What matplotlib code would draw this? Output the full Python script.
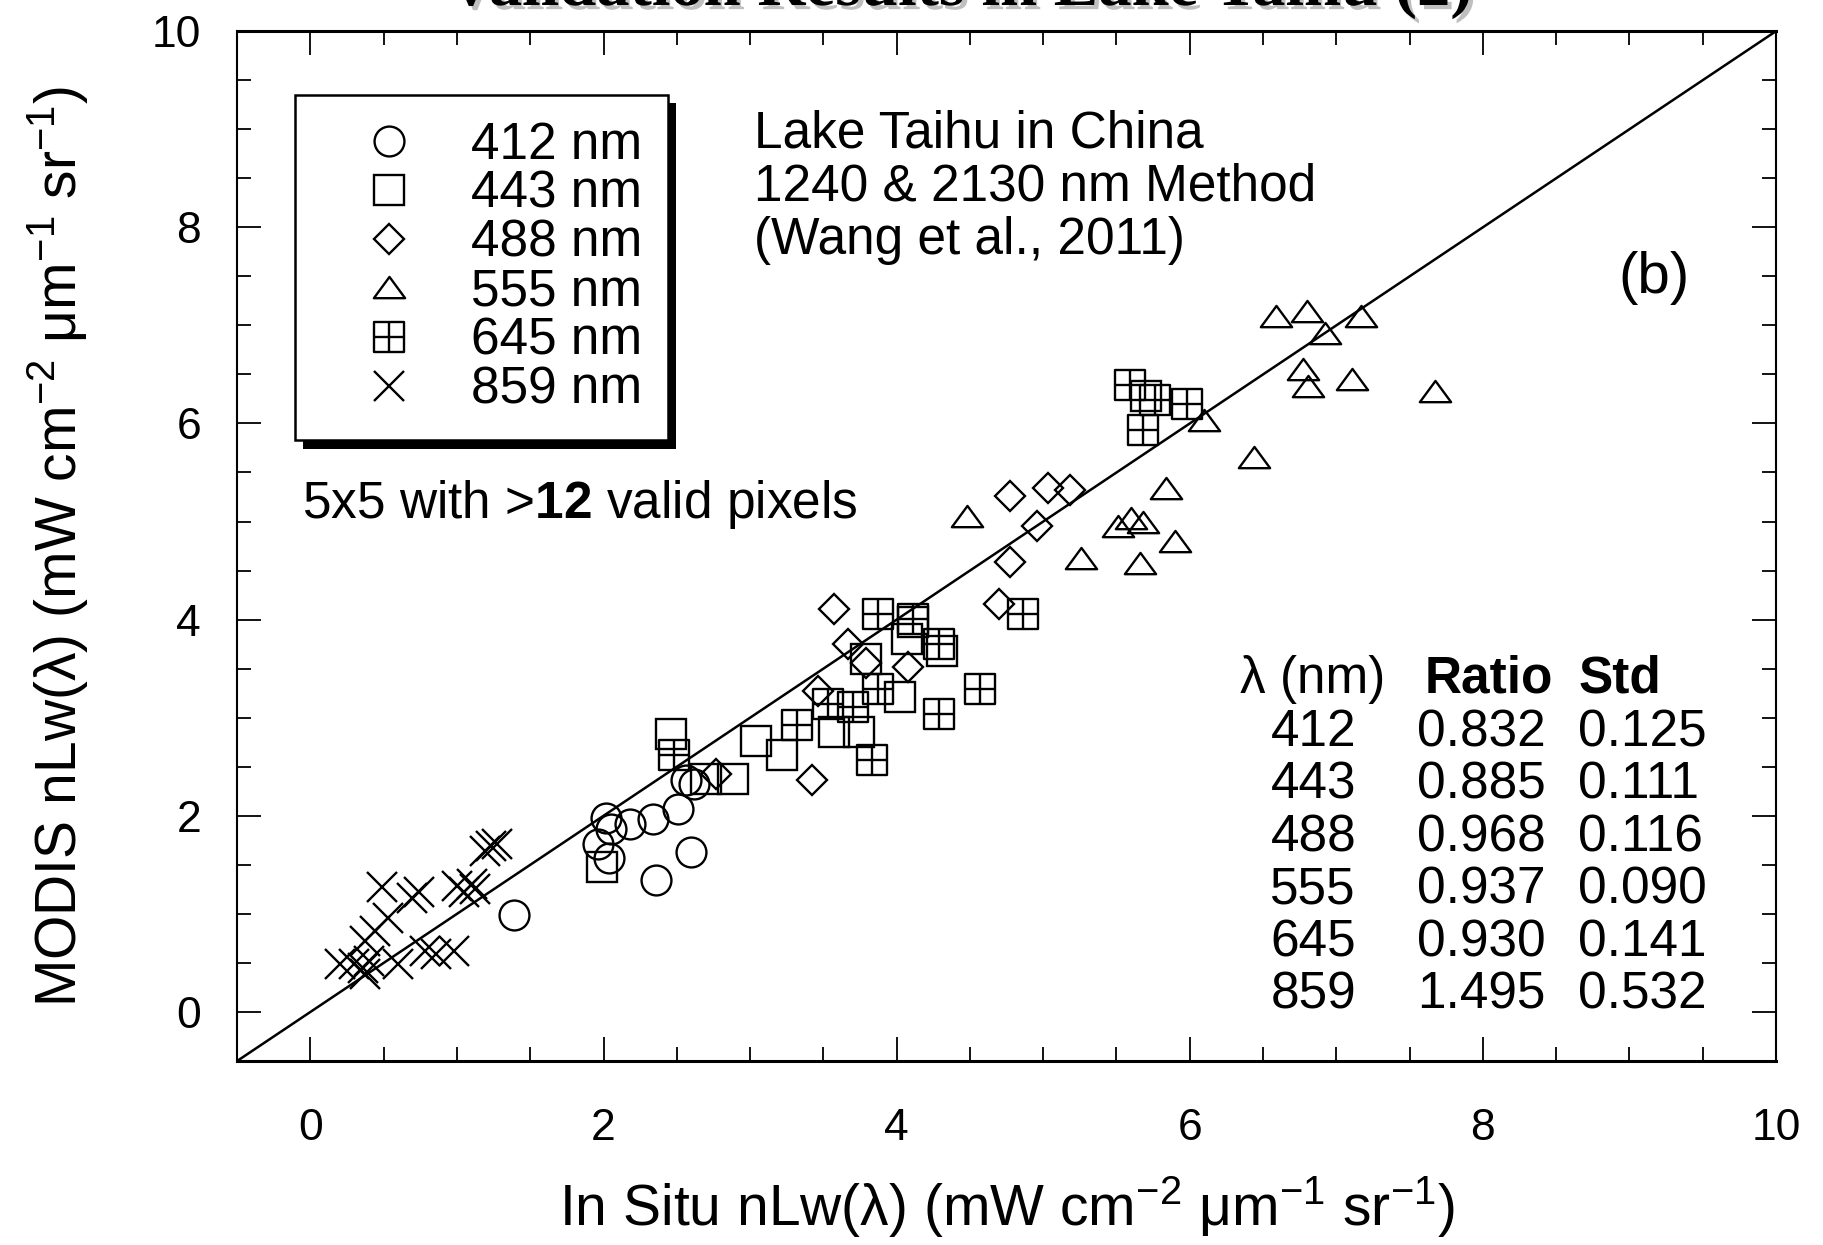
import matplotlib
matplotlib.use("Agg")
import matplotlib.pyplot as plt
import matplotlib.patheffects as pe
from matplotlib.path import Path
from matplotlib.ticker import MultipleLocator

plt.rcParams['font.family'] = ['Liberation Sans', 'DejaVu Sans']
plt.rcParams['mathtext.fontset'] = 'custom'
plt.rcParams['mathtext.rm'] = 'Liberation Sans'
plt.rcParams['mathtext.it'] = 'Liberation Sans:italic'
plt.rcParams['mathtext.bf'] = 'Liberation Sans:bold'

# ==============================
# DATA
# ==============================

x412 = [1.39, 1.96, 2.02, 2.05, 2.04, 2.18, 2.34, 2.51, 2.56, 2.62, 2.36, 2.60]
y412 = [0.99, 1.71, 1.98, 1.87, 1.57, 1.92, 1.97, 2.07, 2.36, 2.32, 1.35, 1.63]

x443 = [1.99, 2.46, 2.70, 2.88, 3.04, 3.22, 3.57, 3.74, 3.79, 4.02, 4.07, 4.11, 4.31, 5.70]
y443 = [1.48, 2.83, 2.37, 2.37, 2.76, 2.62, 2.85, 2.85, 3.60, 3.21, 3.80, 3.98, 3.68, 6.28]

x488 = [2.77, 3.42, 3.46, 3.57, 3.67, 3.79, 4.08, 4.70, 4.77, 4.96, 4.77, 5.03, 5.18]
y488 = [2.43, 2.36, 3.27, 4.11, 3.75, 3.56, 3.52, 4.16, 4.59, 4.95, 5.26, 5.34, 5.32]

x555 = [4.48, 5.26, 5.51, 5.60, 5.68, 5.66, 5.90, 5.84, 6.44, 6.10,
        6.59, 6.80, 6.92, 7.17, 6.77, 6.81, 7.11, 7.67]
y555 = [5.05, 4.62, 4.94, 5.03, 4.98, 4.57, 4.79, 5.33, 5.65, 6.02,
        7.09, 7.14, 6.91, 7.09, 6.54, 6.37, 6.44, 6.32]

x645 = [2.48, 3.32, 3.53, 3.70, 3.87, 3.83, 3.87, 4.11, 4.29, 4.57, 4.29, 4.86,
        5.59, 5.76, 5.98, 5.68]
y645 = [2.62, 2.93, 3.14, 3.11, 3.29, 2.57, 4.06, 4.01, 3.75, 3.29, 3.04, 4.06,
        6.39, 6.24, 6.20, 5.93]

x859 = [0.20, 0.30, 0.36, 0.37, 0.40, 0.37, 0.44, 0.49, 0.53, 0.60, 0.69, 0.74,
        0.78, 0.86, 0.98, 1.00, 1.05, 1.10, 1.12, 1.19, 1.23, 1.27]
y859 = [0.49, 0.49, 0.45, 0.39, 0.52, 0.72, 0.83, 1.27, 0.96, 0.49, 1.16, 1.22,
        0.62, 0.59, 0.62, 1.28, 1.22, 1.30, 1.25, 1.64, 1.69, 1.71]

bandas = ["412", "443", "488", "555", "645", "859"]
ratios = ["0.832", "0.885", "0.968", "0.937", "0.930", "1.495"]
stds = ["0.125", "0.111", "0.116", "0.090", "0.141", "0.532"]

texto_sitio = ["Lake Taihu in China", "1240 & 2130 nm Method", "(Wang et al., 2011)"]

# ==============================
# MARKERS
# ==============================

cuadro_cruz = Path(
    [(-1, -1), (1, -1), (1, 1), (-1, 1), (-1, -1), (0, -1), (0, 1), (-1, 0), (1, 0)],
    [Path.MOVETO, Path.LINETO, Path.LINETO, Path.LINETO, Path.CLOSEPOLY,
     Path.MOVETO, Path.LINETO, Path.MOVETO, Path.LINETO])

triangulo = Path(
    [(-1, -0.62), (1, -0.62), (0, 0.74), (-1, -0.62)],
    [Path.MOVETO, Path.LINETO, Path.LINETO, Path.CLOSEPOLY])

series = [
    (x412, y412, "o", 21.5, "412 nm"),
    (x443, y443, "s", 22, "443 nm"),
    (x488, y488, "D", 15.5, "488 nm"),
    (x555, y555, triangulo, 22.5, "555 nm"),
    (x645, y645, cuadro_cruz, 22, "645 nm"),
    (x859, y859, "x", 21.5, "859 nm"),
]

# ==============================
# GRAFICA
# ==============================

fig = plt.figure(figsize=(18.24, 12.45), dpi=100)
ax = fig.add_axes([0.130, 0.1478, 0.8437, 0.8272])

ax.axline((0, 0), slope=1, color="k", lw=1.8, zorder=1)

for xs, ys, mk, ms, lab in series:
    ax.plot(xs, ys, ls="none", marker=mk, ms=ms, mfc="none", mec="k",
            mew=1.7, label=lab, zorder=3)

ax.set_xlim(-0.5, 10)
ax.set_ylim(-0.5, 10)
ax.set_xticks([0, 2, 4, 6, 8, 10])
ax.set_yticks([0, 2, 4, 6, 8, 10])
ax.xaxis.set_minor_locator(MultipleLocator(0.5))
ax.yaxis.set_minor_locator(MultipleLocator(0.5))

ax.tick_params(which="both", direction="in", top=True, right=True, width=1.3)
ax.tick_params(which="major", length=17)
ax.tick_params(which="minor", length=10)
ax.tick_params(axis="x", which="major", labelsize=32, pad=34)
ax.tick_params(axis="y", which="major", labelsize=32, pad=26)

for lado in ["top", "bottom"]:
    ax.spines[lado].set_linewidth(2.2)
for lado in ["left", "right"]:
    ax.spines[lado].set_linewidth(1.5)

ax.set_xlabel(r"In Situ nLw(λ) (mW cm$^{-2}$ μm$^{-1}$ sr$^{-1}$)", fontsize=41)
ax.set_ylabel(r"MODIS nLw(λ) (mW cm$^{-2}$ μm$^{-1}$ sr$^{-1}$)", fontsize=41)
ax.xaxis.set_label_coords(0.5, -0.11)
ax.yaxis.set_label_coords(-0.095, 0.5)

leg = ax.legend(loc="upper left", bbox_to_anchor=(0.0377, 0.938), borderaxespad=0,
                frameon=True, fancybox=False, edgecolor="k", framealpha=1,
                fontsize=37, handlelength=2.67, handletextpad=0.25, borderpad=0.5,
                labelspacing=0.0, numpoints=1)
leg.get_frame().set_linewidth(1.8)
leg.get_frame().set_path_effects([pe.withSimplePatchShadow(offset=(6, -6),
                                                           shadow_rgbFace="k", alpha=1)])

# textos
for i, linea in enumerate(texto_sitio):
    ax.text(3.03, 8.81 - 0.54 * i, linea, fontsize=37, va="baseline", ha="left")

ax.text(9.17, 7.33, "(b)", fontsize=42, va="baseline", ha="center")

ax.text(-0.06, 5.035, r"5x5 with >$\mathbf{12}$ valid pixels", fontsize=37,
        va="baseline", ha="left")

# tabla
y_tabla = 3.256
ax.text(6.34, y_tabla, "λ (nm)", fontsize=37, va="baseline", ha="left")
ax.text(7.60, y_tabla, "Ratio", fontsize=37, fontweight="bold", va="baseline", ha="left")
ax.text(8.65, y_tabla, "Std", fontsize=37, fontweight="bold", va="baseline", ha="left")
for i in range(len(bandas)):
    yy = 2.708 - 0.535 * i
    ax.text(6.55, yy, bandas[i], fontsize=37, va="baseline", ha="left")
    ax.text(7.55, yy, ratios[i], fontsize=37, va="baseline", ha="left")
    ax.text(8.65, yy, stds[i], fontsize=37, va="baseline", ha="left")

# titulo cortado arriba (como en la figura original)
fig.text(0.526, 1 - 5 / 1245, "Validation Results in Lake Taihu (2)", fontsize=48,
         fontweight="bold", family="Liberation Serif", ha="center", va="baseline",
         path_effects=[pe.SimplePatchShadow(offset=(3, -3), shadow_rgbFace="0.5", alpha=0.5),
                       pe.Normal()])

fig.savefig("out.png", dpi=100)
